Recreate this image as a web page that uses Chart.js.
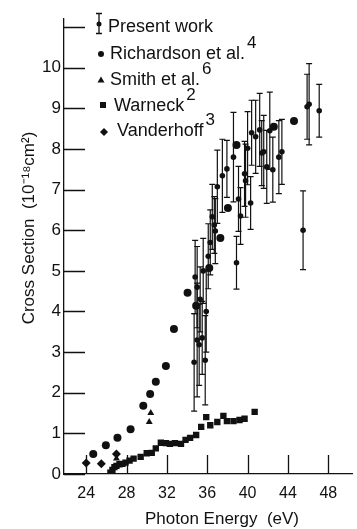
<!DOCTYPE html>
<html>
<head>
<meta charset="utf-8">
<style>
  html, body { margin: 0; padding: 0; background: #fff; }
</style>
<script src="https://cdn.jsdelivr.net/npm/chart.js@4.4.1/dist/chart.umd.min.js"></script>
</head>
<body>
<canvas id="chart" width="357" height="529"></canvas>
<script>
// tick values
const xTicks = [24, 28, 32, 36, 40, 44, 48];
const yTicks = [0, 1, 2, 3, 4, 5, 6, 7, 8, 9, 10, 11];

// Present work (with error bars)
const presentX = [34.7, 35.0, 35.2, 35.5, 35.8, 34.8, 35.0, 35.3, 35.9, 35.6, 36.1, 36.3, 36.5, 36.7, 36.8,
  37.0, 37.5, 37.95, 38.6, 38.9, 39.1, 39.3, 39.7, 39.8, 40.0, 40.3, 40.4, 40.8, 41.2, 41.4, 41.6, 41.9,
  42.2, 42.5, 43.1, 43.4, 45.5, 45.9, 46.1, 47.1];
const presentY = [2.75, 3.3, 3.18, 3.35, 2.8, 4.85, 4.6, 4.3, 4.0, 5.0, 5.36, 5.7, 6.33, 6.13, 5.98,
  7.07, 7.34, 7.51, 7.8, 5.2, 6.77, 6.35, 7.39, 7.22, 8.02, 6.67, 8.4, 8.3, 8.47, 7.9, 7.93, 7.56,
  8.45, 7.49, 7.8, 7.93, 6.0, 9.04, 9.1, 8.94];
const presentErr = [1.2, 1.4, 1.0, 0.9, 1.1, 0.9, 1.0, 0.8, 1.0, 0.8, 0.8, 0.8, 0.8, 0.7, 0.8,
  0.9, 0.9, 0.7, 1.1, 0.65, 0.8, 0.7, 0.8, 0.9, 0.9, 0.65, 0.8, 0.9, 0.9, 0.8, 0.9, 0.9,
  0.95, 0.8, 0.9, 0.8, 0.97, 0.8, 1.0, 0.65];

// Richardson et al.
const richardsonX = [24.7, 25.95, 27.1, 28.4, 29.66, 30.34, 30.9, 31.9, 32.7, 34.05, 34.9, 36.2, 37.3, 38.05, 38.9, 42.6, 44.6];
const richardsonY = [0.49, 0.71, 0.89, 1.1, 1.68, 1.97, 2.27, 2.66, 3.57, 4.46, 4.14, 5.07, 5.81, 6.55, 8.1, 8.55, 8.69];

// Smith et al.
const smithX = [27.0, 30.25, 30.4];
const smithY = [0.38, 1.28, 1.5];

// Warneck
const warneckX = [26.4, 26.6, 26.8, 27.0, 27.3, 27.6, 27.9, 28.3, 28.7, 29.4, 30.0, 30.5, 30.9, 31.4, 31.9,
  32.3, 32.8, 33.4, 33.85, 34.3, 34.9, 35.4, 35.9, 36.3, 37.0, 37.6, 37.95, 38.6, 39.2, 39.7, 40.7];
const warneckY = [0.03, 0.1, 0.17, 0.2, 0.24, 0.25, 0.28, 0.33, 0.38, 0.42, 0.51, 0.52, 0.63, 0.77, 0.76,
  0.74, 0.76, 0.74, 0.84, 0.89, 0.96, 1.16, 1.4, 1.2, 1.28, 1.43, 1.3, 1.3, 1.33, 1.36, 1.53];

// Vanderhoff
const vanderhoffX = [24.0, 25.5, 27.0];
const vanderhoffY = [0.27, 0.25, 0.49];

const ink = '#111';
const font = '"Liberation Sans", Arial, sans-serif';

const pts = (xs, ys) => xs.map((v, i) => ({ x: v, y: ys[i] }));

// error bars drawn under the dots
const errorBars = {
  id: 'errorBars',
  beforeDatasetsDraw(chart) {
    const { ctx, scales: { x, y } } = chart;
    ctx.save();
    ctx.strokeStyle = ink;
    ctx.lineWidth = 1.2;
    presentX.forEach((v, i) => {
      const px = x.getPixelForValue(v);
      const top = y.getPixelForValue(presentY[i] + presentErr[i]);
      const bot = y.getPixelForValue(presentY[i] - presentErr[i]);
      ctx.beginPath();
      ctx.moveTo(px, top); ctx.lineTo(px, bot);
      ctx.moveTo(px - 3, top); ctx.lineTo(px + 3, top);
      ctx.moveTo(px - 3, bot); ctx.lineTo(px + 3, bot);
      ctx.stroke();
    });
    ctx.restore();
  }
};

// inward tick marks, titles and the hand-made key
const decorations = {
  id: 'decorations',
  afterDraw(chart) {
    const { ctx, chartArea: a, scales: { x, y } } = chart;
    ctx.save();
    ctx.strokeStyle = ink;
    ctx.fillStyle = ink;
    ctx.lineWidth = 1.3;
    ctx.beginPath();
    yTicks.forEach(t => {
      const py = Math.round(y.getPixelForValue(t)) + 0.5;
      ctx.moveTo(a.left, py); ctx.lineTo(a.left + 21, py);
    });
    xTicks.forEach(t => {
      const px = Math.round(x.getPixelForValue(t)) + 0.5;
      ctx.moveTo(px, a.bottom); ctx.lineTo(px, a.bottom - 19);
    });
    ctx.stroke();

    // axis titles
    ctx.font = '17px ' + font;
    ctx.textAlign = 'center';
    ctx.textBaseline = 'middle';
    ctx.fillText('Photon Energy  (eV)', 222, 519);
    ctx.save();
    ctx.translate(29, 228);
    ctx.rotate(-Math.PI / 2);
    ctx.fillText('Cross Section  (10\u207B\u00B9\u2078cm\u00B2)', 0, 0);
    ctx.restore();

    // key
    ctx.textAlign = 'left';
    ctx.font = '18px ' + font;
    const rows = [
      { sym: 'err', mx: 99, my: 24, tx: 108, ty: 27, label: 'Present work', sup: '' },
      { sym: 'circle', mx: 101, my: 54, tx: 110, ty: 54, label: 'Richardson et al.', sup: '4' },
      { sym: 'triangle', mx: 101, my: 80, tx: 110, ty: 80, label: 'Smith et al.', sup: '6' },
      { sym: 'square', mx: 103, my: 105, tx: 114, ty: 106, label: 'Warneck', sup: '2' },
      { sym: 'diamond', mx: 104, my: 132, tx: 117, ty: 131, label: 'Vanderhoff', sup: '3' }
    ];
    rows.forEach(r => {
      ctx.beginPath();
      if (r.sym === 'err') {
        ctx.moveTo(r.mx, 13); ctx.lineTo(r.mx, 34);
        ctx.moveTo(r.mx - 3, 13.5); ctx.lineTo(r.mx + 3, 13.5);
        ctx.moveTo(r.mx - 3, 33.5); ctx.lineTo(r.mx + 3, 33.5);
        ctx.stroke();
        ctx.beginPath();
        ctx.arc(r.mx, r.my, 2.5, 0, Math.PI * 2);
      } else if (r.sym === 'circle') {
        ctx.arc(r.mx, r.my, 3, 0, Math.PI * 2);
      } else if (r.sym === 'triangle') {
        ctx.moveTo(r.mx, r.my - 3.5); ctx.lineTo(r.mx + 3.5, r.my + 2.5); ctx.lineTo(r.mx - 3.5, r.my + 2.5);
      } else if (r.sym === 'square') {
        ctx.rect(r.mx - 3, r.my - 3, 6, 6);
      } else {
        ctx.moveTo(r.mx, r.my - 4); ctx.lineTo(r.mx + 4, r.my); ctx.lineTo(r.mx, r.my + 4); ctx.lineTo(r.mx - 4, r.my);
      }
      ctx.closePath();
      ctx.fill();
      ctx.font = '18px ' + font;
      ctx.fillText(r.label, r.tx, r.ty);
      if (r.sup) {
        const w = ctx.measureText(r.label).width;
        ctx.font = '17px ' + font;
        ctx.fillText(r.sup, r.tx + w + 2, r.ty - 11);
      }
    });
    ctx.restore();
  }
};

new Chart(document.getElementById('chart'), {
  type: 'scatter',
  data: {
    datasets: [
      { label: 'Present work', data: pts(presentX, presentY), pointStyle: 'circle', pointRadius: 2.8, backgroundColor: ink, borderWidth: 0 },
      { label: 'Richardson et al.', data: pts(richardsonX, richardsonY), pointStyle: 'circle', pointRadius: 4, backgroundColor: ink, borderWidth: 0 },
      { label: 'Smith et al.', data: pts(smithX, smithY), pointStyle: 'triangle', pointRadius: 4, backgroundColor: ink, borderWidth: 0 },
      { label: 'Warneck', data: pts(warneckX, warneckY), pointStyle: 'rect', pointRadius: 4.5, backgroundColor: ink, borderWidth: 0 },
      { label: 'Vanderhoff', data: pts(vanderhoffX, vanderhoffY), pointStyle: 'rectRot', pointRadius: 4.5, backgroundColor: ink, borderWidth: 0 }
    ]
  },
  options: {
    responsive: false,
    animation: false,
    devicePixelRatio: 1,
    layout: { padding: { top: 19, right: 0, left: 0, bottom: 0 } },
    plugins: { legend: { display: false }, tooltip: { enabled: false } },
    scales: {
      x: {
        type: 'linear',
        min: 21.8,
        max: 50.4,
        afterBuildTicks: s => { s.ticks = xTicks.map(v => ({ value: v })); },
        afterFit: s => { s.height = 55; },
        grid: { display: false, drawTicks: false },
        border: { display: true, color: ink, width: 1.3 },
        ticks: { color: ink, padding: 10, font: { family: font, size: 16 }, maxRotation: 0, autoSkip: false }
      },
      y: {
        type: 'linear',
        min: 0,
        max: 11.2,
        afterBuildTicks: s => { s.ticks = yTicks.map(v => ({ value: v })); },
        afterFit: s => { s.width = 64; },
        grid: { display: false, drawTicks: false },
        border: { display: true, color: ink, width: 1.3 },
        ticks: {
          color: ink, padding: 3, font: { family: font, size: 17 }, autoSkip: false,
          callback: v => (v === 11 ? '' : String(v))
        }
      }
    }
  },
  plugins: [errorBars, decorations]
});
</script>
</body>
</html>
